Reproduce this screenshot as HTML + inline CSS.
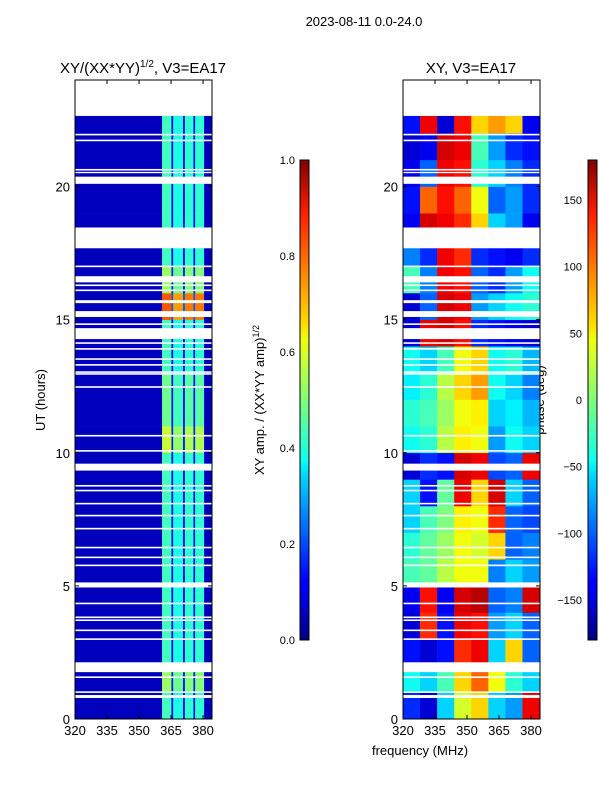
<!DOCTYPE html>
<html><head><meta charset="utf-8"><style>
body{margin:0;background:#fff;width:600px;height:800px;overflow:hidden}
svg text{font-family:"Liberation Sans","DejaVu Sans",sans-serif;fill:#000}
</style></head><body>
<svg id="fig" width="600" height="800" viewBox="0 0 600 800" xmlns="http://www.w3.org/2000/svg">
<defs>
<linearGradient id="jet" x1="0" y1="1" x2="0" y2="0">
<stop offset="0" stop-color="#00007f"/><stop offset="0.11" stop-color="#0000ff"/><stop offset="0.125" stop-color="#0000ff"/>
<stop offset="0.34" stop-color="#00d4ff"/><stop offset="0.375" stop-color="#0fffef"/><stop offset="0.5" stop-color="#7dff7a"/>
<stop offset="0.625" stop-color="#efff0f"/><stop offset="0.66" stop-color="#ffdb00"/><stop offset="0.89" stop-color="#ff1e00"/>
<stop offset="1" stop-color="#7f0000"/></linearGradient>
<clipPath id="clipL"><rect x="75" y="80" width="137" height="639"/></clipPath>
<clipPath id="clipR"><rect x="403" y="80" width="137" height="639"/></clipPath>
</defs>
<text x="364" y="26" font-size="13" text-anchor="middle">2023-08-11 0.0-24.0</text>
<text x="143" y="73" font-size="15" text-anchor="middle">XY/(XX*YY)<tspan font-size="10" dy="-6">1/2</tspan><tspan dy="6">, V3=EA17</tspan></text>
<text x="471" y="73" font-size="15" text-anchor="middle">XY, V3=EA17</text>
<text x="45" y="400" font-size="13" text-anchor="middle" transform="rotate(-90 45 400)">UT (hours)</text>
<text x="420" y="755" font-size="13" text-anchor="middle">frequency (MHz)</text>
<text x="264" y="400" font-size="13" text-anchor="middle" transform="rotate(-90 264 400)">XY amp. / (XX*YY amp)<tspan font-size="9" dy="-5">1/2</tspan></text>
<text x="544" y="400" font-size="13" text-anchor="middle" transform="rotate(-90 544 400)">phase (deg)</text>
<g id="gL" clip-path="url(#clipL)"></g>
<g id="gR" clip-path="url(#clipR)"></g>
<g id="axes"></g>
<rect x="300" y="160" width="9" height="480" fill="url(#jet)" stroke="#000" stroke-width="1"/>
<rect x="588" y="160" width="9" height="480" fill="url(#jet)" stroke="#000" stroke-width="1"/>
</svg>
<script>
// frequency segments (MHz) and relative amplitude for the left panel
const chanEdges=[320,360.8,365.2,366,370.6,371.5,375.5,376.3,380.5,384.2];
const chanAmp=[0.06,0.44,0.12,0.4,0.12,0.42,0.12,0.42,0.06];
// per-hour amplitude scale (hours 0..23)
const hourScale=[1,1.2,1,1,1,1,1,1,1,1,1.3,1.1,1.1,1,1,1.8,1.2,1,1,1,1,1,1,1];
// phase grid: hours 0..23 x 8 freq columns of 8 MHz (320..384)
const phaseCols=[320,328,336,344,352,360,368,376,384];
const phase=[
[-120,-150,-60,30,60,-60,-80,140],
[-40,-60,-20,60,100,40,-30,-60],
[-130,-150,-130,120,140,-60,60,-100],
[-150,120,-130,140,130,-80,-60,-100],
[-140,130,-140,150,160,-100,-90,150],
[-20,-10,20,40,40,-90,-60,-80],
[-30,-10,10,40,30,60,-100,-90],
[-60,-20,0,50,40,120,-100,-110],
[-60,-130,-10,140,60,150,-60,-100],
[-150,-120,-130,150,140,-110,-100,140],
[-40,-30,20,50,40,-80,-40,-60],
[-30,-20,10,40,50,-60,-50,-70],
[-50,-30,20,60,80,-40,-60,-90],
[-40,-60,-20,40,60,-40,-30,-70],
[-150,140,150,130,-120,-130,-140,-150],
[-150,-100,150,140,-80,-60,-40,-30],
[-20,-90,140,130,-100,-120,-80,-40],
[-90,-120,140,120,-120,-130,-140,-120],
[-140,150,140,120,60,-60,-80,-140],
[-130,100,130,100,40,-100,-80,-120],
[-140,-100,140,130,-30,-60,-90,-120],
[-150,-140,150,140,-20,-80,-120,-130],
[-130,140,-150,130,60,80,60,-140],
[0,0,0,0,0,0,0,0]];
// flagged time intervals (hours)
const flags=[[22.65,24],[21.92,21.98],[21.7,21.76],[20.6,20.66],[20.5,20.55],[20.1,20.37],[17.68,18.46],[16.97,17.03],[16.4,16.63],[16.26,16.32],[16.07,16.13],[15.62,15.73],[15.1,15.32],[14.8,14.86],[14.27,14.68],[14.09,14.15],[13.87,13.93],[13.49,13.55],[13.27,13.33],[13.0,13.06],[12.93,12.99],[12.44,12.5],[10.61,10.67],[10.04,10.1],[9.33,9.59],[8.73,8.79],[8.55,8.61],[8.06,8.12],[7.61,7.67],[7.12,7.18],[6.41,6.47],[6.04,6.1],[5.74,5.8],[4.94,5.13],[4.31,4.37],[3.79,3.85],[3.68,3.74],[3.3,3.36],[2.97,3.03],[1.76,2.13],[1.54,1.6],[0.98,1.04],[0.79,0.9]];
const xTicks=[320,335,350,365,380];
const yTicks=[0,5,10,15,20];
const ampTicks=[0.0,0.2,0.4,0.6,0.8,1.0];
const phaseTicks=[-150,-100,-50,0,50,100,150];

const NS='http://www.w3.org/2000/svg';
const X0L=75,X0R=403,PW=137,YT=80,YB=719;
const fx=(f,x0)=>x0+(f-320)/(384.2-320)*PW;
const fy=h=>YB-h/24*(YB-YT);
function jet(v){v=Math.max(0,Math.min(1,v));
 const r=Math.max(0,Math.min(1,1.5-Math.abs(4*v-3))),g=Math.max(0,Math.min(1,1.5-Math.abs(4*v-2))),b=Math.max(0,Math.min(1,1.5-Math.abs(4*v-1)));
 return `rgb(${Math.round(r*255)},${Math.round(g*255)},${Math.round(b*255)})`;}
function el(tag,a,p){const e=document.createElementNS(NS,tag);for(const k in a)e.setAttribute(k,a[k]);p.appendChild(e);return e;}
const gL=document.getElementById('gL'),gR=document.getElementById('gR'),ax=document.getElementById('axes');
for(let h=0;h<23;h++){
 for(let j=0;j<chanAmp.length;j++){
  const v=chanAmp[j]*(j>0&&j<chanAmp.length-1?hourScale[h]:1);
  const r=el('rect',{x:fx(chanEdges[j],X0L),y:fy(h+1),width:fx(chanEdges[j+1],X0L)-fx(chanEdges[j],X0L)+0.3,height:fy(h)-fy(h+1)+0.3,fill:jet(v)},gL);
  
  
 }
 for(let j=0;j<8;j++){
  const r=el('rect',{x:fx(phaseCols[j],X0R),y:fy(h+1),width:fx(phaseCols[j+1],X0R)-fx(phaseCols[j],X0R)+0.3,height:fy(h)-fy(h+1)+0.3,fill:jet((phase[h][j]+180)/360)},gR);
  
  
 }
}
for(const [a,b] of flags){
 for(const [g,x0] of [[gL,X0L],[gR,X0R]]){
  const r=el('rect',{x:x0,y:fy(b),width:PW,height:Math.max(1.3,fy(a)-fy(b)),fill:'#fff'},g);
  
  
 }
}
for(const x0 of [X0L,X0R]){
 const f=el('rect',{x:x0,y:YT,width:PW,height:YB-YT,fill:'none',stroke:'#000','stroke-width':1},ax);
 
 
 for(const t of xTicks){const x=fx(t,x0);
  el('line',{x1:x,x2:x,y1:YB,y2:YB-4,stroke:'#000'},ax);el('line',{x1:x,x2:x,y1:YT,y2:YT+4,stroke:'#000'},ax);
  const tx=el('text',{x:x,y:YB+16,'font-size':13,'text-anchor':'middle'},ax);tx.textContent=t;
  
  }
 for(const t of yTicks){const y=fy(t);
  el('line',{x1:x0,x2:x0+4,y1:y,y2:y,stroke:'#000'},ax);el('line',{x1:x0+PW,x2:x0+PW-4,y1:y,y2:y,stroke:'#000'},ax);
  const tx=el('text',{x:x0-5,y:y+5,'font-size':13,'text-anchor':'end'},ax);tx.textContent=t;
  
  }
}
for(const t of ampTicks){const y=640-t*480;
 el('line',{x1:300,x2:309,y1:y,y2:y,stroke:'#000','stroke-width':0.8},ax);
 const tx=el('text',{x:295,y:y+4,'font-size':11,'text-anchor':'end'},ax);tx.textContent=t.toFixed(1);
 
 }
for(const t of phaseTicks){const y=640-(t+180)/360*480;
 el('line',{x1:588,x2:597,y1:y,y2:y,stroke:'#000','stroke-width':0.8},ax);
 const tx=el('text',{x:582,y:y+4,'font-size':11,'text-anchor':'end'},ax);tx.textContent=t<0?'\u2212'+(-t):t;
 
 }
</script>
</body></html>
